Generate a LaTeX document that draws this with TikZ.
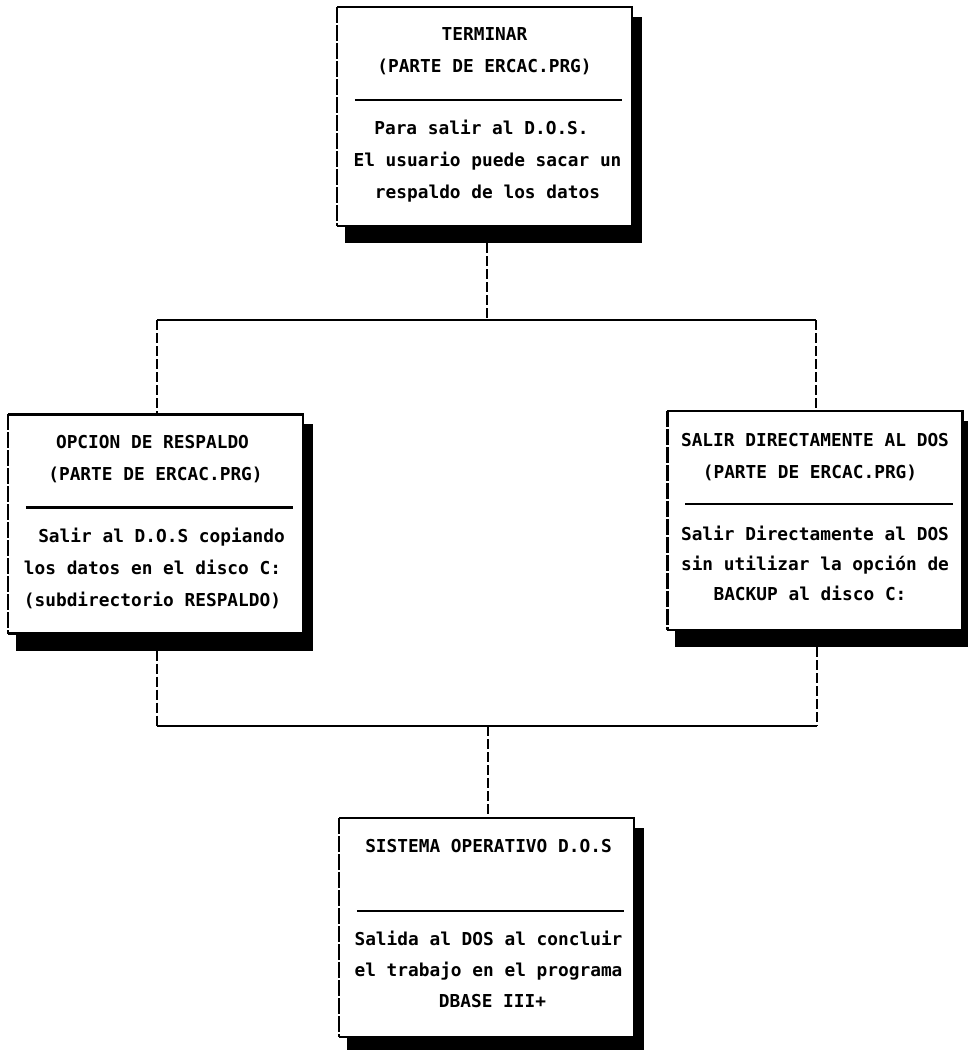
\documentclass[tikz,border=0pt]{standalone}
\usepackage{fontspec}
\newfontfamily\dotfont{DejaVu Sans Mono}
\newcommand\drawbox[1]{%
  \fill ([yshift=-10pt]#1.north east) rectangle ([xshift=10pt,yshift=-17pt]#1.south east);
  \fill ([xshift=8pt]#1.south west) rectangle ([xshift=10pt,yshift=-17pt]#1.south east);
  \draw[edgeline] (#1.south west) -- (#1.south east) -- (#1.north east) -- (#1.north west);
  \draw[leftedge] (#1.north west) -- (#1.south west);
  \draw[sepline] ([xshift=18pt,yshift=-93pt]#1.north west) -- ([xshift=-10pt,yshift=-93pt]#1.north east);
}
\begin{document}
\begin{tikzpicture}[x=1pt,y=-1pt,
  box/.style={minimum width=295pt, minimum height=219pt, inner sep=0pt, draw=none},
  txt/.style={font=\dotfont\bfseries\fontsize{17.8pt}{32pt}\selectfont, inner sep=0pt, text height=13pt, text depth=0pt, anchor=center},
  edgeline/.style={line width=2.5pt, line join=miter},
  leftedge/.style={line width=2.5pt, dash pattern=on 16pt off 2pt},
  sepline/.style={line width=2.5pt},
  vdash/.style={line width=2.5pt, dash pattern=on 10pt off 3pt},
  hline/.style={line width=2.5pt}]
\useasboundingbox (0,0) rectangle (968,1050);

% boxes
\node[box] (t) at (484.5,116.5) {};
\node[box] (l) at (155.5,524) {};
\node[box] (r) at (815,520.5) {};
\node[box] (b) at (486.5,927.5) {};
\drawbox{t}
\drawbox{l}
\drawbox{r}
\drawbox{b}

% top box text
\node[txt] (t1) at ([yshift=-27pt]t.north) {TERMINAR};
\node[txt] (t2) at ([yshift=-59pt]t.north) {(PARTE DE ERCAC.PRG)};
\node[txt] (t3) at ([xshift=-3pt,yshift=-121pt]t.north) {Para salir al D.O.S.};
\node[txt] (t4) at ([xshift=3pt,yshift=-153pt]t.north) {El usuario puede sacar un};
\node[txt] (t5) at ([xshift=3pt,yshift=-185pt]t.north) {respaldo de los datos};

% left box text
\node[txt] (l1) at ([xshift=-3pt,yshift=-28pt]l.north) {OPCION DE RESPALDO};
\node[txt] (l2) at ([yshift=-60pt]l.north) {(PARTE DE ERCAC.PRG)};
\node[txt] (l3) at ([xshift=6pt,yshift=-122pt]l.north) {Salir al D.O.S copiando};
\node[txt] (l4) at ([xshift=-3pt,yshift=-154pt]l.north) {los datos en el disco C:};
\node[txt] (l5) at ([xshift=-3pt,yshift=-186pt]l.north) {(subdirectorio RESPALDO)};

% right box text
\node[txt] (r1) at ([yshift=-29pt]r.north) {SALIR DIRECTAMENTE AL DOS};
\node[txt] (r2) at ([xshift=-5pt,yshift=-61pt]r.north) {(PARTE DE ERCAC.PRG)};
\node[txt] (r3) at ([yshift=-123pt]r.north) {Salir Directamente al DOS};
\node[txt] (r4) at ([yshift=-153pt]r.north) {sin utilizar la opción de};
\node[txt] (r5) at ([xshift=-5pt,yshift=-183pt]r.north) {BACKUP al disco C:};

% bottom box text
\node[txt] (b1) at ([xshift=2pt,yshift=-28pt]b.north) {SISTEMA OPERATIVO D.O.S};
\node[txt] (b2) at ([xshift=2pt,yshift=-121pt]b.north) {Salida al DOS al concluir};
\node[txt] (b3) at ([xshift=2pt,yshift=-152pt]b.north) {el trabajo en el programa};
\node[txt] (b4) at ([xshift=6pt,yshift=-183pt]b.north) {DBASE III+};

% upper connectors
\coordinate (jt) at (487,320);
\coordinate (jl) at (157,320);
\coordinate (jr) at (816,320);
\coordinate (ts) at ([xshift=2.5pt,yshift=-17pt]t.south);
\draw[vdash] (ts) -- (jt);
\draw[hline] (jl) -- (jr);
\draw[vdash] (jl) -- (jl |- l.north);
\draw[vdash] (jr) -- (jr |- r.north);

% lower connectors
\coordinate (kl) at (157,726);
\coordinate (kr) at (817,726);
\coordinate (kc) at (488,726);
\coordinate (ls) at ([yshift=-17pt]l.south);
\coordinate (rs) at ([yshift=-17pt]r.south);
\draw[vdash] (kl |- ls) -- (kl);
\draw[vdash] (kr |- rs) -- (kr);
\draw[hline] (kl) -- (kr);
\draw[vdash] (kc) -- (kc |- b.north);
\end{tikzpicture}
\end{document}
